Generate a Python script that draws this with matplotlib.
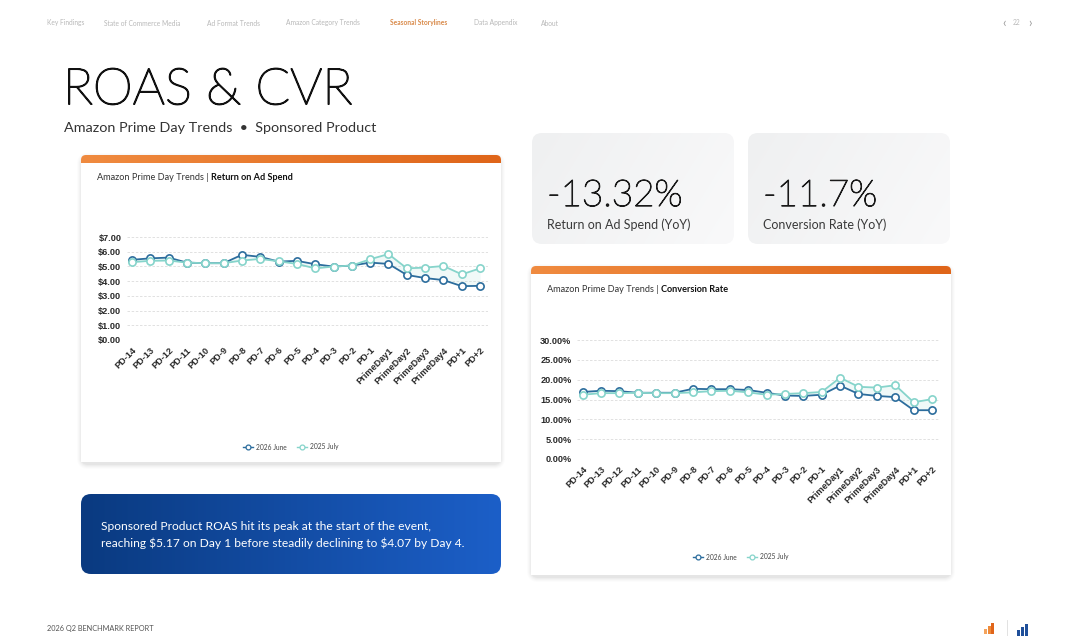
import numpy as np
import matplotlib
matplotlib.use("Agg")
import matplotlib.pyplot as plt
import matplotlib.patheffects as pe
from matplotlib.patches import FancyBboxPatch, Rectangle
from matplotlib.lines import Line2D
from matplotlib.ticker import FuncFormatter, MultipleLocator

# ---------------- data ----------------
days = ["PD-14", "PD-13", "PD-12", "PD-11", "PD-10", "PD-9", "PD-8", "PD-7", "PD-6", "PD-5",
        "PD-4", "PD-3", "PD-2", "PD-1", "PrimeDay1", "PrimeDay2", "PrimeDay3", "PrimeDay4",
        "PD+1", "PD+2"]
roas_2026_june = [5.45, 5.55, 5.60, 5.26, 5.22, 5.22, 5.79, 5.65, 5.33, 5.38,
                  5.15, 4.99, 5.06, 5.26, 5.17, 4.42, 4.21, 4.07, 3.66, 3.68]
roas_2025_july = [5.29, 5.38, 5.40, 5.26, 5.22, 5.22, 5.40, 5.51, 5.35, 5.17,
                  4.87, 4.99, 5.06, 5.49, 5.84, 4.87, 4.92, 5.03, 4.46, 4.87]
cvr_2026_june = [16.9, 17.2, 17.1, 16.7, 16.7, 16.7, 17.7, 17.6, 17.6, 17.4,
                 16.7, 16.0, 15.9, 16.2, 18.5, 16.4, 15.9, 15.6, 12.3, 12.3]
cvr_2025_july = [16.2, 16.6, 16.6, 16.7, 16.6, 16.6, 16.8, 17.1, 17.2, 16.8,
                 16.2, 16.4, 16.6, 16.9, 20.5, 18.2, 18.0, 18.6, 14.3, 15.1]
series_names = ["2026 June", "2025 July"]
nav_items = ["Key Findings", "State of Commerce Media", "Ad Format Trends",
             "Amazon Category Trends", "Seasonal Storylines", "Data Appendix", "About"]
kpi_values = ["-13.32%", "-11.7%"]
kpi_labels = ["Return on Ad Spend (YoY)", "Conversion Rate (YoY)"]

DARK = "#2c6d9d"
LIGHT = "#86d4cb"
W, H = 1080, 636

plt.rcParams["text.parse_math"] = False

fig = plt.figure(figsize=(W / 100, H / 100), dpi=100)
fig.patch.set_facecolor("white")

bg = fig.add_axes([0, 0, 1, 1], zorder=0)
bg.set_xlim(0, W)
bg.set_ylim(H, 0)
bg.axis("off")

UI = ["Lato", "DejaVu Sans"]


def card(x, y, w, h, color="white", r=6, shadow=True):
    if shadow:
        for i, a in zip(range(1, 6), [0.03, 0.025, 0.02, 0.015, 0.01]):
            bg.add_patch(FancyBboxPatch((x - i + 1, y - i + 3), w + 2 * i - 2, h + 2 * i - 1,
                                        boxstyle=f"round,pad=0,rounding_size={r + i}",
                                        fc="#000000", ec="none", alpha=a, zorder=1))
    p = FancyBboxPatch((x, y), w, h, boxstyle=f"round,pad=0,rounding_size={r}",
                       fc=color, ec="none", zorder=2)
    bg.add_patch(p)
    return p


def gradient_patch(x, y, w, h, c1, c2, r, zorder=3, diag=False):
    p = FancyBboxPatch((x, y), w, h, boxstyle=f"round,pad=0,rounding_size={r}",
                       fc="none", ec="none", zorder=zorder)
    bg.add_patch(p)
    c1 = np.array(matplotlib.colors.to_rgb(c1))
    c2 = np.array(matplotlib.colors.to_rgb(c2))
    if diag:
        gx, gy = np.meshgrid(np.linspace(0, 1, 256), np.linspace(0, 1, 64))
        t = np.clip(0.75 * gx + 0.25 * gy, 0, 1)
    else:
        t = np.tile(np.linspace(0, 1, 256), (2, 1))
    img = c1[None, None, :] * (1 - t[..., None]) + c2[None, None, :] * t[..., None]
    im = bg.imshow(img, extent=(x, x + w, y + h, y), aspect="auto", zorder=zorder,
                   interpolation="bilinear")
    im.set_clip_path(p)
    return p


def chart_card(x, y, w, h, title_light, title_bold):
    card(x, y, w, h, r=6)
    gradient_patch(x, y, w, 16, "#f08b40", "#df6519", r=5, zorder=3)
    bg.add_patch(Rectangle((x, y + 8), w, h - 8, fc="white", ec="none", zorder=4))
    t = bg.text(x + 16, y + 23, title_light + " | ", fontsize=6.6, color="#333333",
                family=UI, va="center", ha="left", zorder=5)
    fig.canvas.draw()
    bb = t.get_window_extent()
    inv = bg.transData.inverted()
    xe = inv.transform((bb.x1, bb.y0))[0]
    bg.text(xe, y + 23, title_bold, fontsize=6.6, color="#111111", family=UI,
            fontweight="bold", va="center", ha="left", zorder=5)


# ---------------- nav ----------------
nav_x = [47, 104, 207, 286, 390, 474, 541]
for nx, item in zip(nav_x, nav_items):
    sel = item == "Seasonal Storylines"
    bg.text(nx, 23, item, fontsize=4.8, color="#d98a4a" if sel else "#b8b8b8",
            family=UI, va="center", ha="left", fontweight="bold" if sel else "normal")
bg.text(1004, 22.5, "‹", fontsize=9, color="#999999", family=UI, va="center", ha="center")
bg.text(1017, 22.5, "22", fontsize=4.8, color="#bbbbbb", family=UI, va="center", ha="center")
bg.text(1030, 22.5, "›", fontsize=9, color="#999999", family=UI, va="center", ha="center")

# ---------------- titles ----------------
bg.text(63, 90, "ROAS & CVR", fontsize=36.5, color="#111111", family=UI,
        fontweight="light", va="center", ha="left",
        path_effects=[pe.withStroke(linewidth=1.1, foreground="#111111")])
bg.text(64, 128, "Amazon Prime Day Trends  •  Sponsored Product", fontsize=10.4,
        color="#333333", family=UI, va="center", ha="left")

# ---------------- KPI cards ----------------
for kx, val, lab in zip([532, 748], kpi_values, kpi_labels):
    gradient_patch(kx, 133, 202, 111, "#eff0f1", "#f9f9fa", r=10, zorder=2, diag=True)
    bg.text(kx + 15, 196, val, fontsize=26.5, color="#1a1a1a", family=UI,
            fontweight="light", va="center", ha="left", zorder=5,
            path_effects=[pe.withStroke(linewidth=0.8, foreground="#1a1a1a")])
    bg.text(kx + 15, 225, lab, fontsize=9, color="#3a3a3a", family=UI,
            va="center", ha="left", zorder=5)

# ---------------- chart cards ----------------
chart_card(81, 155, 420, 307, "Amazon Prime Day Trends", "Return on Ad Spend")
chart_card(531, 266, 420, 309, "Amazon Prime Day Trends", "Conversion Rate")

# ---------------- insight box ----------------
gradient_patch(81, 494, 420, 80, "#0a3a80", "#1c5fc8", r=10, zorder=3)
bg.text(101, 526, "Sponsored Product ROAS hit its peak at the start of the event,",
        fontsize=8.65, color="white", family=UI, va="center", ha="left", zorder=5)
bg.text(101, 543, "reaching $5.17 on Day 1 before steadily declining to $4.07 by Day 4.",
        fontsize=8.65, color="white", family=UI, va="center", ha="left", zorder=5)

# ---------------- footer ----------------
bg.text(47, 628, "2026 Q2 BENCHMARK REPORT", fontsize=5.3, color="#555555", family=UI,
        va="center", ha="left")
for i, (hh, c) in enumerate(zip([5, 8, 11], ["#f4a35c", "#ee8a3a", "#e0651a"])):
    bg.add_patch(Rectangle((984 + i * 3.5, 634 - hh), 3, hh, fc=c, ec="none"))
bg.plot([1007, 1007], [620, 636], color="#dddddd", lw=0.6)
for i, hh in enumerate([6, 9, 12]):
    bg.add_patch(Rectangle((1017 + i * 4, 636 - hh), 3, hh, fc="#1f4f9a", ec="none"))


# ---------------- line charts ----------------
def px_axes(x0, x1, ytop, ybot):
    return fig.add_axes([x0 / W, 1 - ybot / H, (x1 - x0) / W, (ybot - ytop) / H], zorder=10)


def style(ax, ymax, step, fmt):
    ax.set_facecolor("none")
    for s in ax.spines.values():
        s.set_visible(False)
    ax.set_ylim(0, ymax)
    ax.yaxis.set_major_locator(MultipleLocator(step))
    ax.yaxis.set_major_formatter(FuncFormatter(fmt))
    ax.yaxis.grid(True, linestyle=(0, (3, 2)), color="#dcdcdc", lw=0.6)
    ax.set_axisbelow(True)
    ax.tick_params(length=0, pad=4)
    ax.set_xticks(range(len(days)))
    ax.set_xticklabels(days, rotation=45, ha="right", rotation_mode="anchor")
    for lab in ax.get_xticklabels() + ax.get_yticklabels():
        lab.set_fontfamily("Liberation Sans")
        lab.set_fontweight("bold")
        lab.set_fontsize(6.6)
        lab.set_color("#2a2a2a")


def draw(ax, a, b):
    x = np.arange(len(days))
    ax.fill_between(x, a, b, color=LIGHT, alpha=0.12, lw=0)
    ax.plot(x, a, color=DARK, lw=1.3, marker="o", ms=5.2, mfc="white", mec=DARK, mew=1.2,
            label=series_names[0], zorder=3)
    ax.plot(x, b, color=LIGHT, lw=1.3, marker="o", ms=5.2, mfc="white", mec=LIGHT, mew=1.2,
            label=series_names[1], zorder=4)


ax1 = px_axes(127, 488, 237, 340)
draw(ax1, roas_2026_june, roas_2025_july)
style(ax1, 7, 1, lambda v, p: f"${v:.2f}")
ax1.set_xlim(-0.27, 19.43)

ax2 = px_axes(577, 940, 340, 459)
draw(ax2, cvr_2026_june, cvr_2025_july)
style(ax2, 30, 5, lambda v, p: f"{v:.2f}%")
ax2.set_xlim(-0.3, 19.43)


def legend(cx, cy):
    handles = [Line2D([], [], color=DARK, lw=1, marker="o", ms=3.5, mfc="white", mec=DARK, mew=0.9),
               Line2D([], [], color=LIGHT, lw=1, marker="o", ms=3.5, mfc="white", mec=LIGHT, mew=0.9)]
    lg = fig.legend(handles, series_names, loc="center", bbox_to_anchor=(cx / W, 1 - cy / H),
                    ncol=2, frameon=False, handlelength=1.4, handletextpad=0.5,
                    columnspacing=1.6, prop={"family": UI, "size": 4.8})
    for t in lg.get_texts():
        t.set_color("#444444")
    lg.set_zorder(11)


legend(291, 447)
legend(741, 557)

fig.savefig("out.png", dpi=100, facecolor="white")
